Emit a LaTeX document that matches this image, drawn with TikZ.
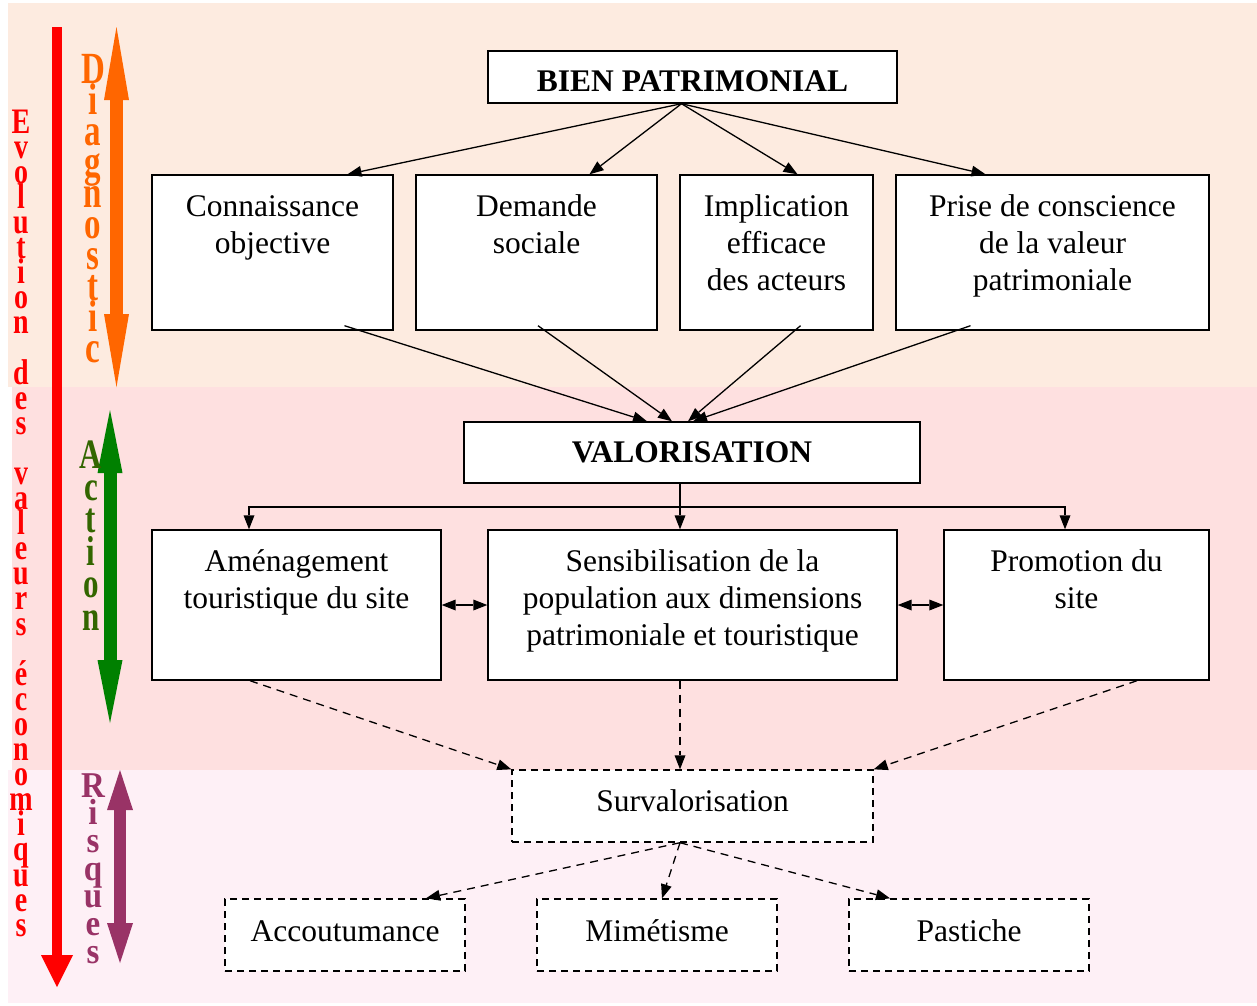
\documentclass[tikz,border=0pt]{standalone}
\usepackage{fontspec}
\usepackage{graphicx}
\setmainfont{Liberation Serif}
\usetikzlibrary{positioning,arrows.meta}

\definecolor{bgdiag}{RGB}{253,235,224}
\definecolor{bgact}{RGB}{254,224,224}
\definecolor{bgrisq}{RGB}{254,240,246}
\definecolor{diagorange}{RGB}{255,102,0}
\definecolor{actgreen}{RGB}{0,128,0}
\definecolor{acttext}{RGB}{51,102,0}
\definecolor{risqpurple}{RGB}{153,51,102}

\begin{document}
\begin{tikzpicture}[x=1pt,y=-1pt,
	box/.style={draw, fill=white, line width=1.4pt, align=center, inner sep=0pt, font=\fontsize{31.5}{37}\selectfont},
	dbox/.style={box, dash pattern=on 7pt off 5pt},
	arrow/.style={draw=black, line width=1.3pt, -{Triangle[length=14pt,width=11pt,line width=0pt]}},
	darrow/.style={arrow, dash pattern=on 8pt off 6pt},
	twoway/.style={draw=black, line width=1.3pt, {Triangle[length=14pt,width=11pt,line width=0pt]}-{Triangle[length=14pt,width=11pt,line width=0pt]}},
	vletter/.style={anchor=base, inner sep=0pt}]

	\useasboundingbox (0,0) rectangle (1257,1005);

	% bandes de fond
	\fill[bgdiag] (8,3) rectangle (1257,387);
	\fill[bgact] (12,387) rectangle (1257,770);
	\fill[bgrisq] (8,770) rectangle (1257,1003);

	% fleches verticales
	\draw[red, line width=10pt, -{Triangle[length=32pt,width=32pt,line width=0pt]}] (57,27) -- (57,987);
	\draw[diagorange, line width=13pt, {Triangle[length=73pt,width=25pt,line width=0pt]}-{Triangle[length=73pt,width=25pt,line width=0pt]}] (116.5,27) -- (116.5,387);
	\draw[actgreen, line width=13pt, {Triangle[length=63pt,width=25pt,line width=0pt]}-{Triangle[length=63pt,width=25pt,line width=0pt]}] (110,410) -- (110,723);
	\draw[risqpurple, line width=12pt, {Triangle[length=40pt,width=26pt,line width=0pt]}-{Triangle[length=40pt,width=26pt,line width=0pt]}] (120,770) -- (120,963);

	% textes verticaux
	\foreach \c [count=\i from 0] in {E,v,o,l,u,t,i,o,n,{},d,e,s,{},v,a,l,e,u,r,s,{},é,c,o,n,o,m,i,q,u,e,s}
		\node[vletter, text=red, font=\fontsize{28}{28}\selectfont\bfseries] (evo\i) at (21,{133+25.1*\i}) {\scalebox{1}[1.28]{\c}};
	\foreach \c [count=\i from 0] in {D,i,a,g,n,o,s,t,i,c}
		\node[vletter, text=diagorange, font=\fontsize{33}{33}\selectfont\bfseries] (diag\i) at (93,{83+31.1*\i}) {\scalebox{1}[1.35]{\c}};
	\foreach \c [count=\i from 0] in {A,c,t,i,o,n}
		\node[vletter, text=acttext, font=\fontsize{31}{31}\selectfont\bfseries] (act\i) at (91,{468+32.4*\i}) {\scalebox{1}[1.35]{\c}};
	\foreach \c [count=\i from 0] in {R,i,s,q,u,e,s}
		\node[vletter, text=risqpurple, font=\fontsize{33}{33}\selectfont\bfseries] (risq\i) at (93,{797+27.7*\i}) {\scalebox{1}[1.1]{\c}};

	% diagnostic
	\node[box, minimum width=409pt, minimum height=52pt, text height=29pt, font=\fontsize{31.5}{37}\selectfont\bfseries] (bien) at (692.5,77) {BIEN PATRIMONIAL};
	\node[box, minimum width=241pt, minimum height=155pt, text depth=19pt] (conn) at (272.5,252.5) {Connaissance\\objective\\\mbox{}};
	\node[box, minimum width=241pt, minimum height=155pt, text depth=19pt] (dem) at (536.5,252.5) {Demande\\sociale\\\mbox{}};
	\node[box, minimum width=193pt, minimum height=155pt, text depth=19pt] (impl) at (776.5,252.5) {Implication\\efficace\\des acteurs};
	\node[box, minimum width=313pt, minimum height=155pt, text depth=19pt] (prise) at (1052.5,252.5) {Prise de conscience\\de la valeur\\patrimoniale};

	% action
	\node[box, minimum width=456pt, minimum height=61pt, font=\fontsize{31.5}{37}\selectfont\bfseries] (valo) at (692,452.5) {VALORISATION};
	\node[box, minimum width=289pt, minimum height=150pt, text depth=14pt] (amen) at (296.5,605) {Aménagement\\touristique du site\\\mbox{}};
	\node[box, minimum width=409pt, minimum height=150pt, text depth=14pt] (sens) at (692.5,605) {Sensibilisation de la\\population aux dimensions\\patrimoniale et touristique};
	\node[box, minimum width=265pt, minimum height=150pt, text depth=14pt] (promo) at (1076.5,605) {Promotion du\\site\\\mbox{}};

	% risques
	\node[dbox, minimum width=361pt, minimum height=72pt, text depth=10pt] (surv) at (692.5,806) {Survalorisation};
	\node[dbox, minimum width=240pt, minimum height=72pt, text depth=8pt] (acc) at (345,935) {Accoutumance};
	\node[dbox, minimum width=240pt, minimum height=72pt, text depth=8pt] (mim) at (657,935) {Mimétisme};
	\node[dbox, minimum width=240pt, minimum height=72pt, text depth=8pt] (past) at (969,935) {Pastiche};

	% liaisons
	\draw[arrow] ([xshift=-11pt]bien.south) -- ([xshift=75pt]conn.north);
	\draw[arrow] ([xshift=-11pt]bien.south) -- ([xshift=53pt]dem.north);
	\draw[arrow] ([xshift=-11pt]bien.south) -- ([xshift=21pt]impl.north);
	\draw[arrow] ([xshift=-11pt]bien.south) -- ([xshift=-67pt]prise.north);

	\draw[arrow] ([xshift=72pt,yshift=5pt]conn.south) -- ([xshift=-45pt]valo.north);
	\draw[arrow] ([xshift=1.5pt,yshift=5pt]dem.south) -- ([xshift=-20pt]valo.north);
	\draw[arrow] ([xshift=24pt,yshift=5pt]impl.south) -- ([xshift=-4pt]valo.north);
	\draw[arrow] ([xshift=-82pt,yshift=5pt]prise.south) -- ([xshift=1pt]valo.north);

	\coordinate (fork) at (680,507);
	\draw[arrow] ([xshift=-12pt]valo.south) -- ([xshift=-12.5pt]sens.north);
	\draw[arrow] (fork) -| ([xshift=-47.5pt]amen.north);
	\draw[arrow] (fork) -| ([xshift=-11.5pt]promo.north);
	\draw[twoway] (amen.east) -- (sens.west);
	\draw[twoway] (sens.east) -- (promo.west);

	\draw[darrow] ([xshift=-46.5pt]amen.south) -- (surv.north west);
	\draw[darrow] ([xshift=-12.5pt]sens.south) -- ([xshift=-12.5pt]surv.north);
	\draw[darrow] ([xshift=60.5pt]promo.south) -- (surv.north east);
	\draw[darrow] ([xshift=-12.5pt]surv.south) -- ([xshift=81pt]acc.north);
	\draw[darrow] ([xshift=-12.5pt]surv.south) -- ([xshift=5pt]mim.north);
	\draw[darrow] ([xshift=-12.5pt]surv.south) -- ([xshift=-79pt]past.north);
\end{tikzpicture}
\end{document}
